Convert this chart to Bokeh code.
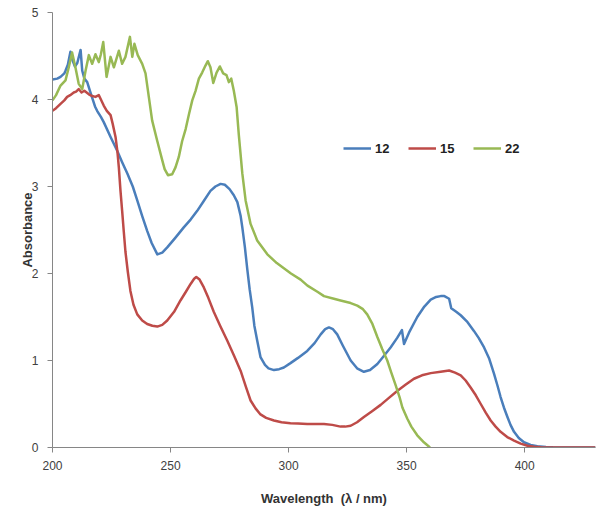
from bokeh.plotting import figure
from bokeh.models import Range1d, FixedTicker, Legend, LegendItem
from bokeh.embed import file_html
from bokeh.resources import INLINE

# ---- data ----
x12 = [200, 202, 203.4, 205, 205.5, 206.5, 207.6, 208.5, 209.5, 210.5, 211.9, 212.6, 213.5, 214.7, 216.1,
       218, 218.9, 220.5, 221.7, 224.6, 227.4, 229.5, 231.7, 234, 235.9, 238, 240.1, 242, 244.4, 246.5,
       248.6, 252, 255.6, 258.5, 261.3, 264, 266.9, 269, 271.2, 273, 275, 276.8, 278.3, 279.7, 280.4,
       281.5, 282.5, 283.5, 284.6, 285.5, 286.7, 288.1, 290, 291.5, 293.8, 296, 298, 300.8, 304, 307.9,
       311, 313.6, 315.5, 317.1, 318.8, 320.6, 323, 326.3, 329, 331.9, 334.5, 337.6, 340, 343.2, 346,
       348.0, 348.9, 351, 354.5, 357.5, 360.2, 362.5, 364.4, 366, 368, 368.9, 371, 372.9, 375.5, 378.5,
       380.5, 382.8, 385, 387, 388.5, 389.8, 391.2, 392.7, 394, 395.5, 397.5, 399.7, 402.5, 405.4, 409,
       412, 420, 430]
y12 = [4.23, 4.24, 4.26, 4.30, 4.33, 4.40, 4.55, 4.45, 4.38, 4.42, 4.57, 4.33, 4.24, 4.20, 4.08,
       3.92, 3.87, 3.80, 3.74, 3.57, 3.41, 3.28, 3.15, 3.00, 2.84, 2.66, 2.49, 2.35, 2.22, 2.24,
       2.30, 2.41, 2.53, 2.62, 2.72, 2.83, 2.95, 3.00, 3.03, 3.02, 2.97, 2.90, 2.82, 2.66, 2.53,
       2.30, 2.05, 1.82, 1.61, 1.40, 1.23, 1.04, 0.95, 0.91, 0.89, 0.90, 0.92, 0.97, 1.03, 1.11,
       1.20, 1.30, 1.36, 1.38, 1.36, 1.30, 1.17, 1.00, 0.91, 0.87, 0.89, 0.96, 1.04, 1.15, 1.26,
       1.35, 1.19, 1.32, 1.50, 1.62, 1.70, 1.73, 1.74, 1.74, 1.71, 1.60, 1.56, 1.52, 1.45, 1.34,
       1.26, 1.15, 1.02, 0.85, 0.71, 0.58, 0.46, 0.35, 0.26, 0.18, 0.11, 0.06, 0.03, 0.015, 0.007,
       0.003, 0.0, 0.0]

x15 = [200, 201.5, 203.4, 205, 206.2, 207.5, 209, 210, 211.1, 212.3, 213.5, 215.4, 216.8, 218.2, 219.6,
       220.5, 221.7, 223, 224.6, 225.5, 226.7, 227.5, 228.1, 228.8, 229.5, 230.2, 230.9, 231.9, 233,
       234.3, 235.9, 238, 240.1, 242.3, 244.4, 246.5, 248.6, 251.5, 254.2, 256.5, 258.5, 260, 260.9,
       262.3, 264.1, 266, 268.3, 271, 274, 277, 279.7, 282, 283.9, 286, 288.1, 290.5, 293.8, 297,
       300.8, 304, 307.9, 311, 315, 318.5, 322, 324, 326.3, 329, 331.9, 335.5, 339, 342.5, 346,
       349.5, 353.1, 356.5, 360.2, 364.4, 368, 370.5, 372.9, 375, 377.1, 379.3, 381.4, 383.5, 385.6,
       387.7, 389.8, 392.6, 395.5, 398.3, 401.2, 404, 406.8, 412, 430]
y15 = [3.87, 3.90, 3.95, 3.99, 4.03, 4.05, 4.08, 4.09, 4.12, 4.08, 4.10, 4.06, 4.04, 4.03, 4.05,
       4.00, 3.93, 3.87, 3.82, 3.72, 3.57, 3.40, 3.22, 2.95, 2.72, 2.48, 2.25, 2.02, 1.80,
       1.64, 1.53, 1.46, 1.42, 1.40, 1.39, 1.41, 1.46, 1.56, 1.69, 1.79, 1.88, 1.94, 1.96,
       1.93, 1.84, 1.72, 1.56, 1.40, 1.23, 1.05, 0.88, 0.69, 0.54, 0.45, 0.38, 0.34, 0.31, 0.29,
       0.28, 0.275, 0.27, 0.27, 0.27, 0.26, 0.24, 0.24, 0.25, 0.29, 0.35, 0.42, 0.49, 0.57, 0.65,
       0.72, 0.79, 0.83, 0.855, 0.87, 0.885, 0.86, 0.83, 0.77, 0.69, 0.60, 0.50, 0.40, 0.31,
       0.24, 0.18, 0.12, 0.08, 0.045, 0.02, 0.008, 0.003, 0.0, 0.0]

x22 = [200, 201.5, 203.4, 205.5, 206.9, 208.3, 209.7, 211.1, 212.6, 214, 215.4, 216.8, 218.2, 219.6,
       220.5, 221.5, 222.9, 224.6, 226, 228.1, 229.5, 230.9, 232.8, 233.8, 234.7, 236.1, 238, 239.4,
       240.8, 242.2, 244.4, 246.5, 247.5, 248.9, 250.7, 252.1, 253.5, 254.9, 256.4, 257.8, 259.2,
       260.6, 262, 263.4, 264.8, 265.8, 266.9, 268.1, 269.5, 270.9, 272.3, 273.7, 274.7, 275.7,
       276.8, 278, 278.9, 280.4, 281.8, 283.9, 286.7, 291, 295, 298, 301, 305.1, 308, 312.2, 315,
       319.2, 322, 326.3, 329.1, 331.5, 333.3, 335.5, 337.6, 339.7, 341.8, 343.5, 345.3, 347, 348.2,
       350.3, 352, 354.5, 357.3, 359.9]
y22 = [3.99, 4.05, 4.16, 4.22, 4.37, 4.54, 4.37, 4.18, 4.12, 4.33, 4.51, 4.41, 4.52, 4.43,
       4.52, 4.66, 4.26, 4.49, 4.37, 4.56, 4.41, 4.49, 4.72, 4.49, 4.64, 4.51, 4.41, 4.30,
       4.03, 3.76, 3.52, 3.30, 3.20, 3.13, 3.14, 3.22, 3.34, 3.52, 3.66, 3.83, 3.99,
       4.10, 4.24, 4.31, 4.39, 4.44, 4.37, 4.19, 4.31, 4.38, 4.30, 4.28, 4.20, 4.24,
       4.10, 3.91, 3.60, 3.15, 2.84, 2.57, 2.38, 2.22, 2.12, 2.06, 2.00, 1.93, 1.86, 1.79, 1.74,
       1.71, 1.69, 1.66, 1.63, 1.59, 1.53, 1.42, 1.27, 1.13, 1.00, 0.86, 0.72, 0.58, 0.46,
       0.33, 0.24, 0.14, 0.06, 0.0]

series_names = ["12", "15", "22"]
series_colors = ["#4A7EBB", "#BE4B48", "#98B954"]
x_ticks = [200, 250, 300, 350, 400]
y_ticks = [0, 1, 2, 3, 4, 5]

p = figure(width=604, height=517, output_backend="svg", toolbar_location=None,
           x_range=Range1d(200, 430), y_range=Range1d(0, 5),
           min_border_left=52, min_border_right=9, min_border_top=12, min_border_bottom=70)
p.background_fill_color = "white"
p.border_fill_color = "white"
p.outline_line_color = None
p.xgrid.visible = False
p.ygrid.visible = False

renderers = []
for xs, ys, c in zip([x12, x15, x22], [y12, y15, y22], series_colors):
    r = p.line(xs, ys, line_color=c, line_width=2.5, line_join="round")
    renderers.append(r)

axis_color = "#868686"
for ax in (p.xaxis[0], p.yaxis[0]):
    ax.axis_line_color = axis_color
    ax.major_tick_line_color = axis_color
    ax.minor_tick_line_color = None
    ax.major_tick_in = 0
    ax.major_tick_out = 5
    ax.major_label_text_font = "Liberation Sans"
    ax.major_label_text_font_size = "12px"
    ax.major_label_text_color = "#404040"
    ax.axis_label_text_font = "Liberation Sans"
    ax.axis_label_text_font_style = "bold"
    ax.axis_label_text_font_size = "13px"
    ax.axis_label_text_color = "#333333"

p.xaxis.ticker = FixedTicker(ticks=x_ticks)
p.yaxis.ticker = FixedTicker(ticks=y_ticks)
p.xaxis.axis_label = "Wavelength \u00a0(\u03bb / nm)"
p.yaxis.axis_label = "Absorbance"
p.xaxis.major_label_standoff = 8
p.xaxis.axis_label_standoff = 18
p.yaxis.major_label_standoff = 9
p.yaxis.axis_label_standoff = -6

legend = Legend(items=[LegendItem(label=n, renderers=[r]) for n, r in zip(series_names, renderers)],
                orientation="horizontal", location=(291, 291),
                glyph_width=28, glyph_height=16, label_standoff=4, spacing=13,
                padding=0, margin=0, border_line_color=None, background_fill_alpha=0,
                label_text_font="Liberation Sans", label_text_font_style="bold",
                label_text_font_size="13px", label_text_color="#222222")
p.add_layout(legend)

open("out.html", "w").write(file_html(p, INLINE))
